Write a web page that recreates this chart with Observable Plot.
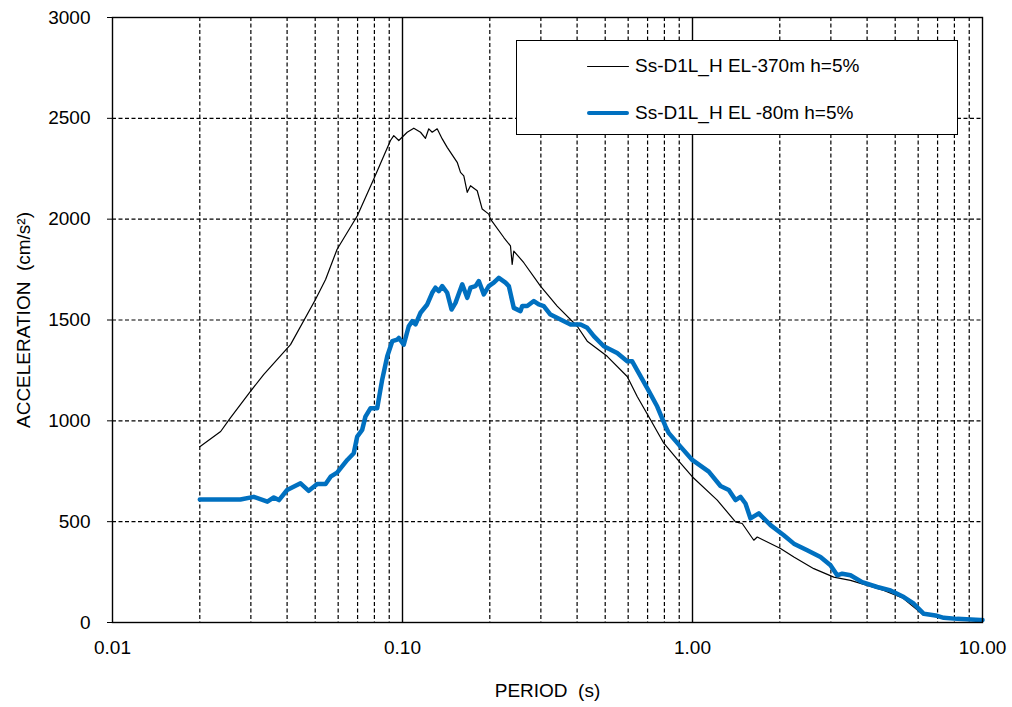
<!DOCTYPE html>
<html>
<head>
<meta charset="utf-8">
<script src="https://cdn.jsdelivr.net/npm/d3@7"></script>
<script src="https://cdn.jsdelivr.net/npm/@observablehq/plot@0.6"></script>
<style>
  html, body { margin: 0; padding: 0; background: #fff; }
  #wrap { position: relative; width: 1012px; height: 707px; font-family: "Liberation Sans", Arial, sans-serif; }
  #legend { position: absolute; left: 516px; top: 40px; width: 442px; height: 95px; background: #fff; border: 1.3px solid #000; box-sizing: border-box; font-size: 19px; color: #000; }
  .item { position: absolute; left: 70px; display: flex; align-items: center; }
  .sw { width: 42px; margin-right: 6px; }
</style>
</head>
<body>
<div id="wrap"></div>
<script>
// Series names
const seriesNames = ["Ss-D1L_H EL-370m h=5%", "Ss-D1L_H EL -80m h=5%"];

// EL-370m (black, thin)
const periodA = [0.020, 0.0236, 0.0255, 0.0299, 0.0332, 0.0411, 0.0501, 0.0543, 0.0595, 0.0698, 0.0796, 0.0909, 0.0933, 0.0971, 0.1038, 0.1094, 0.1154, 0.1200, 0.1232, 0.1266, 0.1317, 0.1371, 0.1426, 0.1544, 0.1585, 0.1627, 0.1672, 0.1716, 0.1810, 0.1883, 0.1984, 0.2011, 0.2236, 0.2357, 0.2389, 0.2420, 0.2620, 0.2991, 0.3415, 0.4004, 0.4335, 0.5080, 0.5954, 0.6447, 0.7165, 0.7962, 0.9092, 0.998, 1.217, 1.407, 1.484, 1.627, 1.672, 2.011, 2.236, 2.620, 3.070, 3.506, 4.004, 4.568, 5.30, 6.20, 7.30, 9.90];
const accelA  = [872, 947, 1015, 1146, 1229, 1378, 1602, 1701, 1851, 2016, 2199, 2390, 2414, 2390, 2431, 2451, 2431, 2401, 2448, 2431, 2448, 2398, 2356, 2282, 2232, 2215, 2133, 2166, 2141, 2050, 2025, 2000, 1909, 1867, 1776, 1842, 1784, 1668, 1569, 1469, 1395, 1320, 1220, 1121, 1005, 889, 790, 723, 607, 499, 491, 408, 424, 367, 325, 267, 225, 209, 184, 159, 122, 42, 22, 12];

// EL-80m (blue, thick)
const periodB = [0.020, 0.0276, 0.0307, 0.0342, 0.0360, 0.0375, 0.0400, 0.0445, 0.0475, 0.0508, 0.0543, 0.0565, 0.0595, 0.0645, 0.0679, 0.0698, 0.0726, 0.0745, 0.0776, 0.0818, 0.0851, 0.0886, 0.0922, 0.0959, 0.0971, 0.1010, 0.1051, 0.1080, 0.1109, 0.1154, 0.1217, 0.1266, 0.1299, 0.1334, 0.1371, 0.1426, 0.1476, 0.1523, 0.1607, 0.1672, 0.1716, 0.1785, 0.1833, 0.1907, 0.1984, 0.2064, 0.2148, 0.2265, 0.2326, 0.2420, 0.2552, 0.2587, 0.2692, 0.2837, 0.2951, 0.3070, 0.3237, 0.3506, 0.3796, 0.4110, 0.4335, 0.4568, 0.4945, 0.5499, 0.5954, 0.6196, 0.6528, 0.6980, 0.7557, 0.8072, 0.8287, 0.9092, 0.998, 1.138, 1.249, 1.334, 1.407, 1.464, 1.523, 1.585, 1.693, 1.858, 2.064, 2.236, 2.486, 2.763, 2.991, 3.155, 3.282, 3.506, 3.847, 4.335, 4.818, 5.354, 5.797, 6.276, 6.884, 7.355, 8.180, 9.84, 10.0];
const accelB  = [610, 610, 623, 599, 620, 607, 657, 690, 653, 687, 687, 723, 743, 806, 839, 922, 955, 1021, 1063, 1063, 1204, 1320, 1395, 1403, 1411, 1378, 1469, 1494, 1478, 1536, 1577, 1635, 1660, 1643, 1668, 1635, 1552, 1585, 1677, 1610, 1660, 1668, 1693, 1627, 1668, 1685, 1709, 1685, 1668, 1560, 1544, 1569, 1569, 1594, 1577, 1569, 1527, 1502, 1478, 1478, 1461, 1420, 1370, 1336, 1295, 1295, 1237, 1162, 1071, 972, 939, 872, 806, 748, 677, 657, 607, 623, 590, 516, 541, 483, 433, 391, 358, 325, 284, 234, 242, 234, 200, 176, 159, 126, 93, 43, 35, 23, 18, 13, 12];

// Axis ticks
const xTicks = [0.01, 0.1, 1, 10];
const yTicks = [0, 500, 1000, 1500, 2000, 2500, 3000];
const xMinor = [0.02,0.03,0.04,0.05,0.06,0.07,0.08,0.09,0.2,0.3,0.4,0.5,0.6,0.7,0.8,0.9,2,3,4,5,6,7,8,9];
const xMajor = [0.1, 1];
const yGrid = [500, 1000, 1500, 2000, 2500];

const colors = ["#000000", "#0070C0"];

const dataA = periodA.map((p, i) => ({period: p, acc: accelA[i]}));
const dataB = periodB.map((p, i) => ({period: p, acc: accelB[i]}));

const chart = Plot.plot({
  width: 1012,
  height: 707,
  marginLeft: 112,
  marginRight: 30,
  marginTop: 17,
  marginBottom: 85,
  style: { fontFamily: "'Liberation Sans', Arial, sans-serif", fontSize: "19px", color: "#000", background: "#fff" },
  x: { type: "log", domain: [0.01, 10] },
  y: { domain: [0, 3000] },
  marks: [
    Plot.ruleX(xMinor, { stroke: "#000", strokeWidth: 1.2, strokeDasharray: "4,2.5" }),
    Plot.ruleY(yGrid, { stroke: "#000", strokeWidth: 1.2, strokeDasharray: "4,2.5" }),
    Plot.ruleX(xMajor, { stroke: "#000", strokeWidth: 1.4 }),
    Plot.line(dataA, { x: "period", y: "acc", stroke: colors[0], strokeWidth: 1.2 }),
    Plot.line(dataB, { x: "period", y: "acc", stroke: colors[1], strokeWidth: 4.5, strokeLinejoin: "round" }),
    Plot.frame({ stroke: "#000", strokeWidth: 1.4 }),
    Plot.axisX({ ticks: xTicks, tickFormat: d => d.toFixed(2), tickSize: 0, tickPadding: 18,
      label: "PERIOD\u00a0\u00a0(s)", labelAnchor: "center", labelArrow: "none", labelOffset: 74 }),
    Plot.axisY({ ticks: yTicks, tickFormat: d => String(d), tickSize: 5, tickPadding: 17,
      label: "ACCELERATION\u00a0\u00a0(cm/s\u00b2)", labelAnchor: "center", labelArrow: "none", labelOffset: 96 })
  ]
});

const wrap = document.getElementById("wrap");
wrap.appendChild(chart);

const legend = document.createElement("div");
legend.id = "legend";
seriesNames.forEach((name, i) => {
  const item = document.createElement("div");
  item.className = "item";
  item.style.top = (i === 0 ? 14 : 61) + "px";
  const sw = document.createElement("div");
  sw.className = "sw";
  sw.style.borderTop = (i === 0 ? 1.2 : 4.5) + "px solid " + colors[i];
  sw.style.borderRadius = "2px";
  const t = document.createElement("span");
  t.textContent = name;
  item.appendChild(sw);
  item.appendChild(t);
  legend.appendChild(item);
});
wrap.appendChild(legend);
</script>
</body>
</html>
